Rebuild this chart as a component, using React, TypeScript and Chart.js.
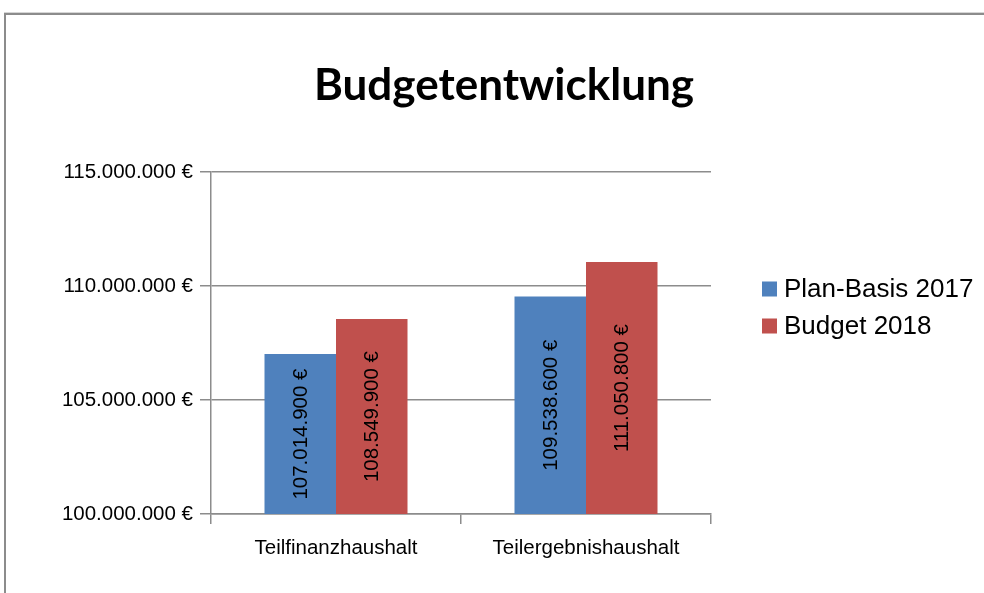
import React, { useEffect, useRef } from "react";
import { Chart, registerables } from "chart.js";

Chart.register(...registerables);

const categories = ["Teilfinanzhaushalt", "Teilergebnishaushalt"];
const seriesNames = ["Plan-Basis 2017", "Budget 2018"];
const planBasis2017 = [107014900, 109538600];
const budget2018 = [108549900, 111050800];
const yTicks = [100000000, 105000000, 110000000, 115000000];
const titleText = "Budgetentwicklung";

const colors = ["#4F81BD", "#C0504D"];
const AXIS_FONT = "'Liberation Sans', Arial, sans-serif";

function formatEuro(v: number): string {
  const s = Math.round(v).toString();
  const parts: string[] = [];
  for (let i = s.length; i > 0; i -= 3) {
    parts.unshift(s.substring(Math.max(0, i - 3), i));
  }
  return parts.join(".") + " €";
}

const framePlugin = {
  id: "frame",
  beforeDraw(chart: any) {
    const ctx = chart.ctx;
    ctx.save();
    ctx.fillStyle = "#ffffff";
    ctx.fillRect(0, 0, chart.width, chart.height);
    ctx.fillStyle = "#d6d6d6";
    ctx.fillRect(4, 12, chart.width - 4, 1);
    ctx.fillStyle = "#8c8c8c";
    ctx.fillRect(4, 13, chart.width - 4, 2);
    ctx.fillRect(4, 13, 2, chart.height - 13);
    ctx.restore();
  },
};

const barLabelPlugin = {
  id: "barLabels",
  afterDraw(chart: any) {
    const ctx = chart.ctx;
    const yScale = chart.scales.y;
    const bottom = chart.chartArea.bottom;
    ctx.save();
    ctx.font = `20.5px ${AXIS_FONT}`;
    ctx.fillStyle = "#000000";
    ctx.textAlign = "center";
    ctx.textBaseline = "middle";
    chart.data.datasets.forEach((ds: any, di: number) => {
      const meta = chart.getDatasetMeta(di);
      meta.data.forEach((bar: any, i: number) => {
        const props = bar.getProps ? bar.getProps(["x"], true) : bar;
        const cx = props.x;
        const top = yScale.getPixelForValue(ds.data[i]);
        const cy = (top + bottom) / 2;
        ctx.save();
        ctx.translate(cx, cy);
        ctx.rotate(-Math.PI / 2);
        ctx.fillText(formatEuro(ds.data[i]), 0, 1);
        ctx.restore();
      });
    });
    ctx.restore();
  },
};

const legendPlugin = {
  id: "customLegend",
  afterDraw(chart: any) {
    const ctx = chart.ctx;
    ctx.save();
    ctx.font = `26px ${AXIS_FONT}`;
    ctx.textBaseline = "middle";
    ctx.textAlign = "left";
    const x0 = 762;
    const y0 = 289;
    const step = 37;
    chart.data.datasets.forEach((ds: any, i: number) => {
      const y = y0 + i * step;
      ctx.fillStyle = ds.backgroundColor;
      ctx.fillRect(x0, y - 7.5, 15, 15);
      ctx.fillStyle = "#000000";
      ctx.fillText(ds.label, x0 + 22, y + 1);
    });
    ctx.restore();
  },
};

export default function App() {
  const ref = useRef<HTMLCanvasElement | null>(null);

  useEffect(() => {
    document.body.style.margin = "0";
    const canvas = ref.current;
    if (!canvas) return;
    const chart = new Chart(canvas, {
      type: "bar",
      data: {
        labels: categories,
        datasets: [
          { label: seriesNames[0], data: planBasis2017, backgroundColor: colors[0], yAxisID: "y" },
          { label: seriesNames[1], data: budget2018, backgroundColor: colors[1], yAxisID: "y" },
        ],
      },
      options: {
        responsive: false,
        animation: false,
        devicePixelRatio: 1,
        layout: { padding: { left: 24, right: 0, top: 0, bottom: 0 } },
        datasets: {
          bar: { barPercentage: 1.0, categoryPercentage: 0.572 },
        },
        plugins: {
          legend: { display: false },
          tooltip: { enabled: false },
          title: {
            display: true,
            text: titleText,
            color: "#000000",
            font: { family: "Lato, 'Open Sans', sans-serif", size: 44, weight: "bold", lineHeight: 1.2 },
            padding: { top: 59, bottom: 60.2 },
          },
        },
        scales: {
          x: {
            type: "category",
            offset: true,
            grid: {
              offset: true,
              drawOnChartArea: false,
              drawTicks: true,
              tickLength: 10,
              color: "#8c8c8c",
              lineWidth: 1.5,
            },
            border: { display: true, color: "#8c8c8c", width: 1.5 },
            ticks: {
              color: "#000000",
              font: { family: AXIS_FONT, size: 20.5 },
              padding: 12,
              maxRotation: 0,
            },
            afterFit(scale: any) {
              scale.height = 79;
            },
          },
          y: {
            type: "linear",
            min: 100000000,
            max: 115000000,
            afterBuildTicks(scale: any) {
              scale.ticks = yTicks.map((v) => ({ value: v }));
            },
            grid: {
              color: "#8c8c8c",
              lineWidth: 1.5,
              drawTicks: true,
              tickLength: 11,
            },
            border: { display: true, color: "#8c8c8c", width: 1.5 },
            ticks: {
              color: "#000000",
              font: { family: AXIS_FONT, size: 20.5 },
              padding: 7,
              callback: (v: any) => formatEuro(Number(v)),
            },
            afterFit(scale: any) {
              scale.width = 187;
            },
          },
          spacer: {
            type: "linear",
            position: "right",
            display: true,
            grid: { display: false, drawTicks: false },
            border: { display: false },
            ticks: { display: false },
            afterFit(scale: any) {
              scale.width = 273;
            },
          },
        },
      },
      plugins: [framePlugin, barLabelPlugin, legendPlugin],
    });
    return () => chart.destroy();
  }, []);

  return (
    <div style={{ position: "absolute", left: 0, top: 0, width: 984, height: 593 }}>
      <canvas ref={ref} width={984} height={593} style={{ display: "block", width: 984, height: 593 }} />
    </div>
  );
}
